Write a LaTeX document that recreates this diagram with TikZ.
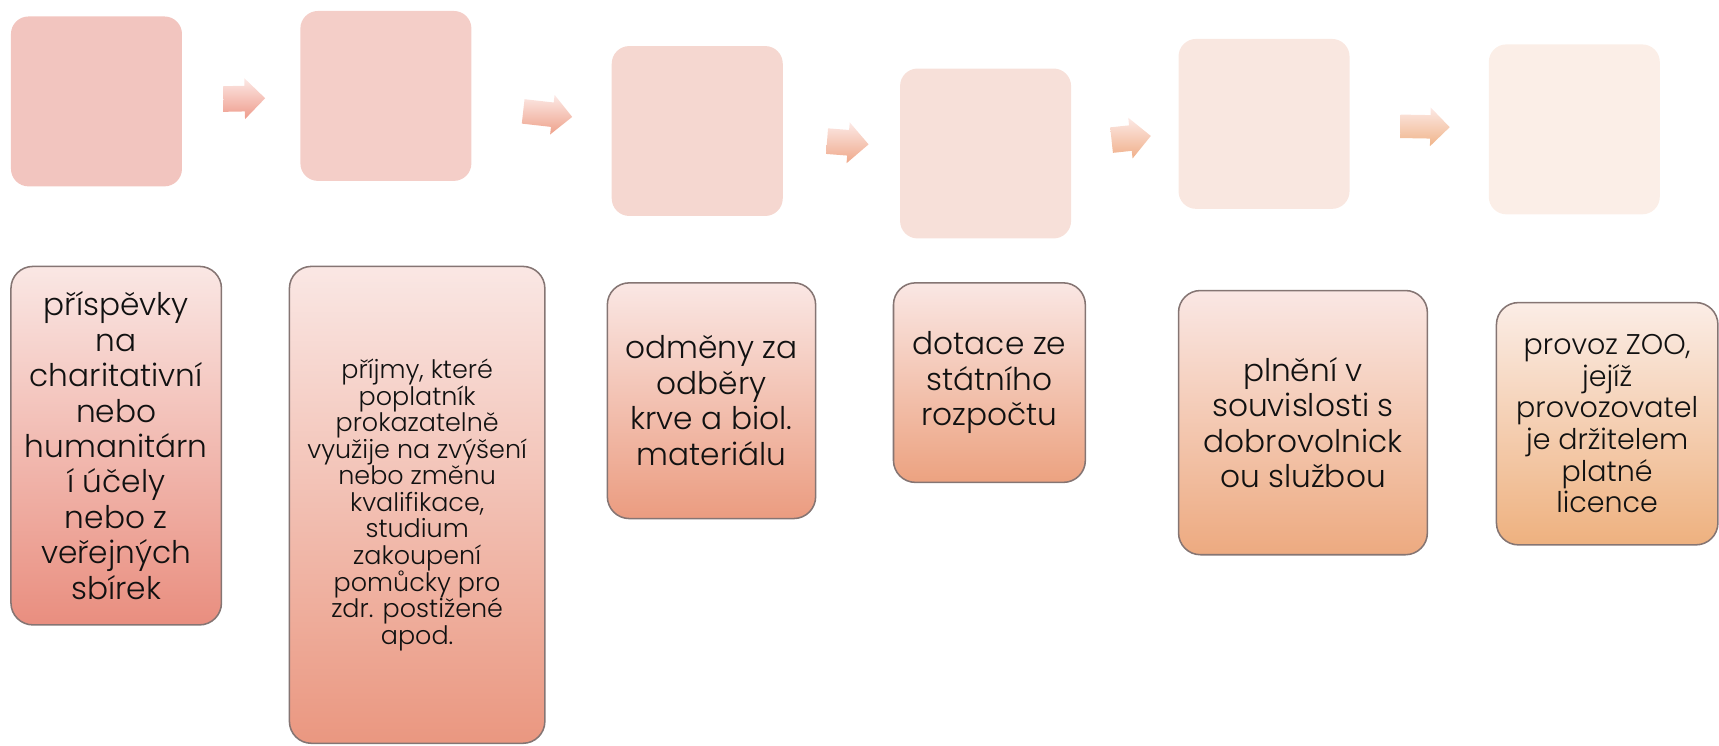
\documentclass[tikz,border=0pt]{standalone}
\usepackage{fontspec}
\setmainfont{Poppins}[UprightFont=* Light]
\setlength\lineskiplimit{-100pt}
\usetikzlibrary{shapes.arrows}
\definecolor{tb1}{HTML}{F2C5BF}
\definecolor{tb2}{HTML}{F4CEC8}
\definecolor{tb3}{HTML}{F5D7D0}
\definecolor{tb4}{HTML}{F7E0D9}
\definecolor{tb5}{HTML}{F9E7E0}
\definecolor{tb6}{HTML}{FBEEE7}
\definecolor{btop}{HTML}{FAE7E4}
\definecolor{bb1}{HTML}{E98E7F}
\definecolor{bb2}{HTML}{EA9780}
\definecolor{bb3}{HTML}{EB9C80}
\definecolor{bb4}{HTML}{ECA280}
\definecolor{bb5}{HTML}{EDAA80}
\definecolor{bb6}{HTML}{EEB17F}
\definecolor{btop6}{HTML}{FBEDE6}
\definecolor{ab1}{HTML}{EE9B8B}
\definecolor{ab2}{HTML}{EEA18A}
\definecolor{ab3}{HTML}{EFA88A}
\definecolor{ab4}{HTML}{F0AF89}
\definecolor{ab5}{HTML}{F0B489}
\definecolor{atop}{HTML}{FCE9E6}
\definecolor{bord}{HTML}{857573}
\definecolor{txt}{HTML}{111111}
\tikzset{
  topbox/.style={rectangle, rounded corners=1.6mm, minimum width=15.6mm, minimum height=15.5mm, inner sep=0pt},
  botbox/.style={rectangle, rounded corners=2mm, draw=bord, line width=0.4pt, inner sep=0pt, align=center, text=txt, top color=btop},
  bigtext/.style={font=\fontsize{8.1pt}{9.2pt}\selectfont},
  midtext/.style={font=\fontsize{7.4pt}{8.2pt}\selectfont},
  smalltext/.style={font=\fontsize{6.6pt}{6.9pt}\selectfont},
  blockarrow/.style={single arrow, inner sep=0pt, single arrow head extend=0.7mm, top color=atop, sloped, midway}
}
\begin{document}
\begin{tikzpicture}[x=0.1mm, y=-0.1mm]
\useasboundingbox (0,0) rectangle (1568,680);
% top boxes
\node[topbox, fill=tb1] (t1) at (88,92.5) {};
\node[topbox, fill=tb2] (t2) at (352,87.5) {};
\node[topbox, fill=tb3] (t3) at (636,119.5) {};
\node[topbox, fill=tb4] (t4) at (899,140) {};
\node[topbox, fill=tb5] (t5) at (1153,113) {};
\node[topbox, fill=tb6] (t6) at (1436,118) {};
% block arrows
\path (t1.center) -- (t2.center) node[blockarrow, bottom color=ab1, minimum height=3.8mm, xshift=-0.3mm] (a1) {\rule{0pt}{2.2mm}};
\path (t2.center) -- (t3.center) node[blockarrow, bottom color=ab2, minimum height=4.5mm] (a2) {\rule{0pt}{2.1mm}};
\path (t3.center) -- (t4.center) node[blockarrow, bottom color=ab3, minimum height=3.8mm] (a3) {\rule{0pt}{2.2mm}};
\path (t4.center) -- (t5.center) node[blockarrow, bottom color=ab4, minimum height=3.6mm] (a4) {\rule{0pt}{2.2mm}};
\path (t5.center) -- (t6.center) node[blockarrow, bottom color=ab5, minimum height=4.5mm] (a5) {\rule{0pt}{2.0mm}};
% bottom boxes
\node[botbox, bigtext, bottom color=bb1, minimum width=19.2mm, minimum height=32.7mm] (b1) at (106,406.5)
  {příspěvky\\na\\charitativní\\nebo\\humanitárn\\í účely\\nebo z\\veřejných\\sbírek};
\node[botbox, smalltext, bottom color=bb2, minimum width=23.3mm, minimum height=43.5mm] (b2) at (380.5,460.5)
  {příjmy, které\\poplatník\\prokazatelně\\využije na zvýšení\\nebo změnu\\kvalifikace,\\studium\\zakoupení\\pomůcky pro\\zdr. postižené\\apod.};
\node[botbox, bigtext, bottom color=bb3, minimum width=19mm, minimum height=21.5mm] (b3) at (649,365.5)
  {odměny za\\odběry\\krve a biol.\\materiálu};
\node[botbox, bigtext, bottom color=bb4, minimum width=17.5mm, minimum height=18.2mm] (b4) at (902.5,349)
  {dotace ze\\státního\\rozpočtu};
\node[botbox, bigtext, bottom color=bb5, minimum width=22.7mm, minimum height=24.1mm] (b5) at (1188.5,385.5)
  {plnění v\\souvislosti s\\dobrovolnick\\ou službou};
\node[botbox, midtext, top color=btop6, bottom color=bb6, minimum width=20.2mm, minimum height=22.1mm] (b6) at (1466,386.5)
  {provoz ZOO,\\jejíž\\provozovatel\\je držitelem\\platné\\licence};
\end{tikzpicture}
\end{document}
